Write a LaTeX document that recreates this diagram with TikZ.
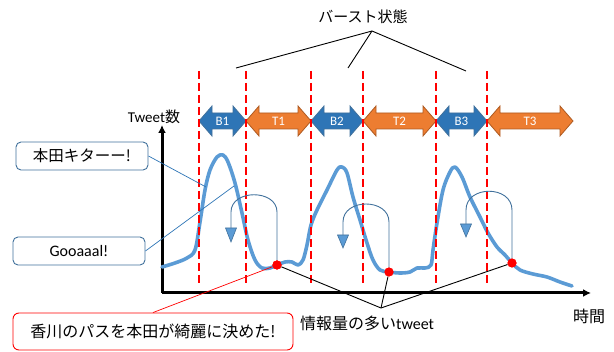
\documentclass[tikz,border=0pt]{standalone}
\usepackage{fontspec}
\setmainfont{Carlito}
\newfontfamily\cjk{Noto Sans CJK JP}
\usetikzlibrary{arrows.meta}
\definecolor{cblue}{HTML}{2E75B6}
\definecolor{cbluel}{HTML}{5B9BD5}
\definecolor{cbord}{HTML}{41719C}
\definecolor{corange}{HTML}{ED7D31}
\definecolor{cobord}{HTML}{AE5A21}
\newcommand{\phasearrow}[7]{%
  \draw[draw=#4, fill=#5, line width=0.8pt, line join=miter]
    (#1,#3) -- (#1+13,#3-15) -- (#1+13,#3-8) -- (#2-13,#3-8) -- (#2-13,#3-15)
    -- (#2,#3) -- (#2-13,#3+15) -- (#2-13,#3+8) -- (#1+13,#3+8) -- (#1+13,#3+15) -- cycle;
  \node[phaselabel] (#7) at ({(#1+#2)/2},#3) {#6};}
\begin{document}
\begin{tikzpicture}[x=1pt,y=-1pt,
  phaselabel/.style={inner sep=0pt, text=white, font=\fontsize{13}{15}\selectfont},
  txt/.style={inner sep=0pt, font=\fontsize{16}{18}\selectfont},
  tweetbox/.style={draw=cbord, line width=0.9pt, rounded corners=5pt, fill=white,
    minimum width=132pt, minimum height=28pt, inner sep=0pt, font=\fontsize{15.5}{18}\selectfont},
  redbox/.style={draw=red, line width=0.9pt, rounded corners=6pt, fill=white,
    minimum width=280pt, minimum height=37pt, inner sep=0pt, font=\fontsize{16}{18}\selectfont},
  phaseline/.style={red, line width=2pt, dash pattern=on 8pt off 4pt},
  curve/.style={cbluel, line width=3.6pt, line cap=round, line join=round},
  loopline/.style={cbord, line width=0.9pt},
  loophead/.style={draw=cbord, fill=cbluel, line width=0.6pt},
  reddot/.style={circle, fill=red, inner sep=0pt, minimum size=9pt},
  thinline/.style={black, line width=0.9pt},
  axis/.style={black, line width=3pt, -{Latex[length=8pt,width=8pt]}},
]
\useasboundingbox (0,0) rectangle (614,352);

% axes
\coordinate (origin) at (162,293);
\coordinate (ytop) at (162,125);
\coordinate (xend) at (591,293);
\draw[axis] (origin) -- (ytop);
\draw[axis] (origin) -- (xend);
\node[txt, font=\fontsize{15}{18}\selectfont] (ylab) at (154,117) {Tweet{\cjk 数}};
\node[txt] (xlab) at (589,316) {\cjk 時間};

% tweet curve
\draw[curve] plot[smooth, tension=0.55] coordinates {
 (162,267) (175,263) (187,258) (195,250) (200,222) (205,190) (210,170) (217,157)
 (223,155) (228,162) (235,183) (242,213) (248,240) (255,260) (262,268) (270,268)
 (277,265) (285,262) (292,262) (298,265) (303,260) (307,245) (311,225) (317,210)
 (327,190) (337,170) (342,167) (347,173) (353,197) (360,220) (367,243) (373,260)
 (380,270) (389,272) (400,273) (410,272) (417,268) (425,268) (431,265) (433,250)
 (437,223) (443,190) (450,172) (455,167) (462,177) (470,197) (480,217) (488,233)
 (497,247) (505,255) (512,263) (520,270) (533,274) (547,277) (560,282) (572,286)};

% phase arrows
\phasearrow{199}{246}{121}{cbord}{cblue}{B1}{b1}
\phasearrow{246}{311}{121}{cobord}{corange}{T1}{t1}
\phasearrow{311}{363}{121}{cbord}{cblue}{B2}{b2}
\phasearrow{363}{436}{121}{cobord}{corange}{T2}{t2}
\phasearrow{436}{487}{121}{cbord}{cblue}{B3}{b3}
\phasearrow{487}{573}{121}{cobord}{corange}{T3}{t3}

% phase boundaries
\foreach \px/\nm in {199/p1,246/p2,311/p3,363/p4,436/p5,487/p6}{
  \coordinate (\nm top) at (\px,71);
  \coordinate (\nm bot) at (\px,283);
  \draw[phaseline] (\nm top) -- (\nm bot);
}

% burst title
\node[txt, font=\fontsize{15}{18}\selectfont] (burst) at (363,17) {\cjk バースト状態};
\coordinate (apex) at (372,31);
\coordinate (bl1) at (236,68);
\coordinate (bl2) at (348,68);
\coordinate (bl3) at (466,71);
\draw[thinline] (bl1) -- (apex) -- (bl3);
\draw[thinline] (apex) -- (bl2);

% red dots
\node[reddot] (d1) at (277,265) {};
\node[reddot] (d2) at (389,272) {};
\node[reddot] (d3) at (512,263) {};

% loops
\coordinate (h1) at (231,228);
\coordinate (h2) at (343,235);
\coordinate (h3) at (466,224);
\draw[loopline] (d1.north) -- (277,212) .. controls (277,189) and (231,189) .. (231,212) -- (h1);
\draw[loopline] (d2.north) -- (389,222) .. controls (389,198) and (343,198) .. (343,222) -- (h2);
\draw[loopline] (d3.north) -- (512,210) .. controls (512,185) and (466,185) .. (466,210) -- (h3);
\draw[loophead] (225.5,228) -- (236.5,228) -- (231,242) -- cycle;
\draw[loophead] (337.5,235) -- (348.5,235) -- (343,248) -- cycle;
\draw[loophead] (460.5,224) -- (471.5,224) -- (466,237) -- cycle;

% informative tweets
\coordinate (conv) at (381,308);
\node[txt, anchor=west] (info) at (300,323) {{\cjk 情報量の多い}tweet};
\draw[thinline] (d1) -- (conv);
\draw[thinline] (d2) -- (conv);
\draw[thinline] (d3) -- (conv);
\node[reddot] at (d1) {};
\node[reddot] at (d2) {};
\node[reddot] at (d3) {};

% tweet boxes
\node[tweetbox] (honda) at (82,156) {\cjk 本田キターー!};
\node[tweetbox, font=\fontsize{16}{18}\selectfont] (goal) at (79,251) {Gooaaal!};
\node[redbox] (kagawa) at (153,331.5) {\cjk 香川のパスを本田が綺麗に決めた!};
\coordinate (hondaend) at (206,187);
\coordinate (goalend) at (234,186);
\draw[cblue, line width=0.7pt] (honda.east) -- (hondaend);
\draw[cblue, line width=0.7pt] (goal.east) -- (goalend);
\draw[red, line width=0.7pt] (kagawa.north) -- (d1);
\node[reddot] at (d1) {};
\end{tikzpicture}
\end{document}
